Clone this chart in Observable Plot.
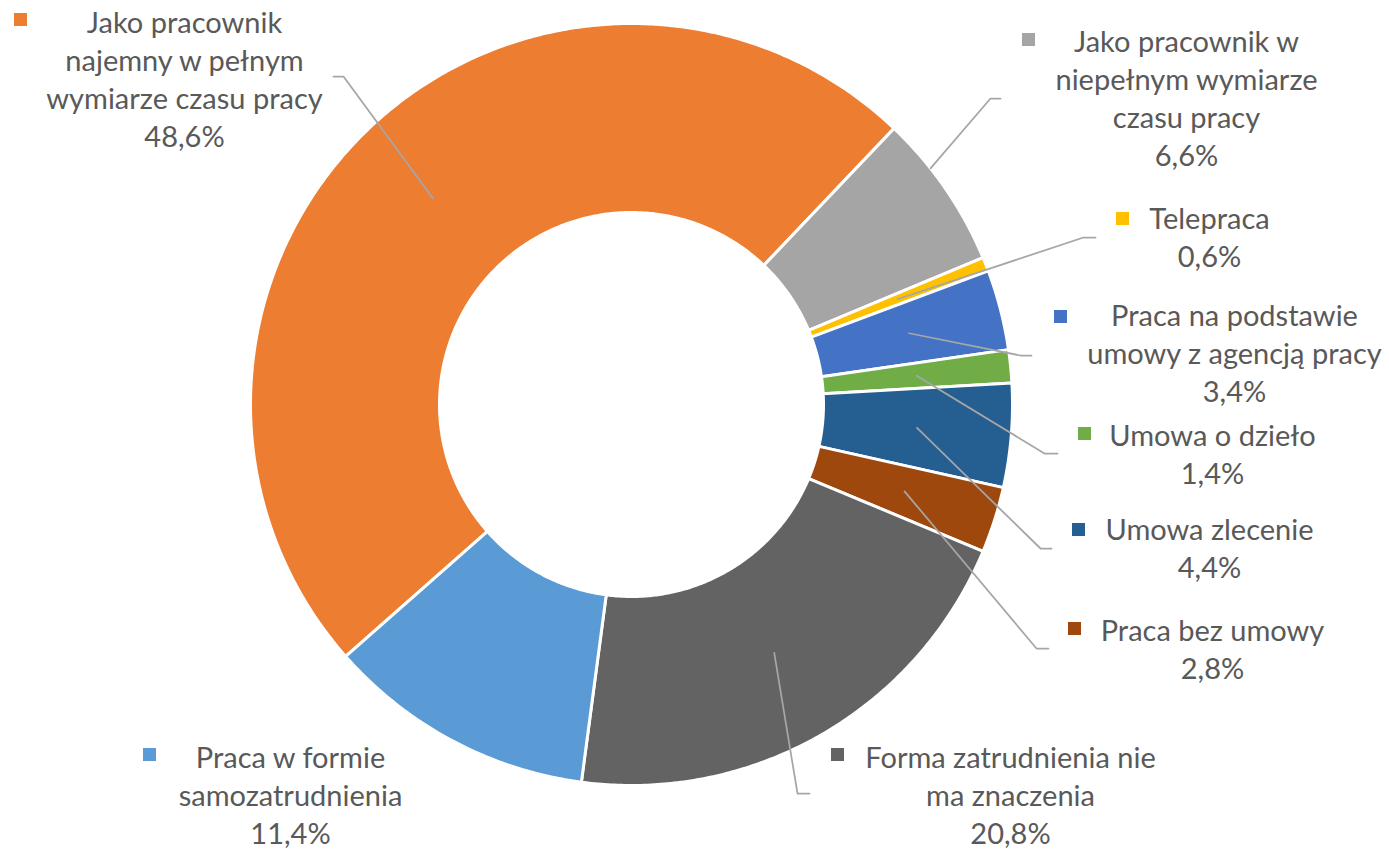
<!DOCTYPE html>
<html><head><meta charset="utf-8">
<script src="https://cdn.jsdelivr.net/npm/d3@7"></script>
<script src="https://cdn.jsdelivr.net/npm/@observablehq/plot@0.6"></script>
<style>
html,body{margin:0;padding:0;background:#fff;overflow:hidden;}
#chart svg{display:block;}
</style>
</head><body><div id="chart"></div>
<script>
// ---------- DATA ----------
const categories = [
  "Jako pracownik najemny w pełnym wymiarze czasu pracy",
  "Jako pracownik w niepełnym wymiarze czasu pracy",
  "Telepraca",
  "Praca na podstawie umowy z agencją pracy",
  "Umowa o dzieło",
  "Umowa zlecenie",
  "Praca bez umowy",
  "Forma zatrudnienia nie ma znaczenia",
  "Praca w formie samozatrudnienia"
];
const values = [48.6, 6.6, 0.6, 3.4, 1.4, 4.4, 2.8, 20.8, 11.4];
const labelLines = [
  ["Jako pracownik", "najemny w pełnym", "wymiarze czasu pracy"],
  ["Jako pracownik w", "niepełnym wymiarze", "czasu pracy"],
  ["Telepraca"],
  ["Praca na podstawie", "umowy z agencją pracy"],
  ["Umowa o dzieło"],
  ["Umowa zlecenie"],
  ["Praca bez umowy"],
  ["Forma zatrudnienia nie", "ma znaczenia"],
  ["Praca w formie", "samozatrudnienia"]
];
const colors = ["#ED7D31","#A5A5A5","#FFC000","#4472C4","#70AD47","#255E91","#9E480E","#636363","#5B9BD5"];

// ---------- LAYOUT (pixels) ----------
const W = 1389, H = 849;
const CX = 631, CY = 404, R_OUT = 381, R_IN = 192;
const START_ANGLE = 228.6; // degrees clockwise from 12 o'clock
const LINE_H = 38, FONT_SIZE = 29, KEY = 13;
// label anchor: cx = text centre, y0 = first baseline, key = legend key top-left, lead = [start x, elbow x, y] or null, edge = stop at outer edge
const labelLayout = [
  {cx: 184, y0: 32,  key: [14, 13],   lead: [333, 343, 76]},
  {cx: 1186, y0: 51, key: [1022, 33], lead: [1000, 990, 98], edge: true},
  {cx: 1209, y0: 228, key: [1116, 212], lead: [1095, 1083, 237]},
  {cx: 1234, y0: 325, key: [1054, 310], lead: [1031, 1020, 355]},
  {cx: 1212, y0: 445, key: [1078, 427], lead: [1057, 1044, 453]},
  {cx: 1209, y0: 539, key: [1072, 523], lead: [1051, 1040, 548]},
  {cx: 1212, y0: 640, key: [1068, 622], lead: [1048, 1036, 648]},
  {cx: 1010, y0: 767, key: [831, 748],  lead: [809, 797, 793]},
  {cx: 290, y0: 767, key: [143, 748],   lead: null}
];

// ---------- DERIVED ----------
const total = d3.sum(values);
const fmt = v => d3.format(".1f")(v).replace(".", ",") + "%";
let acc = 0;
const slices = values.map((v, i) => {
  const a0 = START_ANGLE + acc / total * 360;
  acc += v;
  const a1 = START_ANGLE + acc / total * 360;
  return {i, name: categories[i], a0, a1, mid: (a0 + a1) / 2};
});
const polar = (deg, r) => {
  const a = deg * Math.PI / 180;
  return [CX + r * Math.sin(a), CY - r * Math.cos(a)];
};
const slicePts = [];
slices.forEach(s => {
  const n = Math.max(2, Math.ceil((s.a1 - s.a0) / 0.5));
  for (let k = 0; k <= n; k++) {
    const [x, y] = polar(s.a0 + (s.a1 - s.a0) * k / n, R_OUT);
    slicePts.push({name: s.name, x, y});
  }
  for (let k = n; k >= 0; k--) {
    const [x, y] = polar(s.a0 + (s.a1 - s.a0) * k / n, R_IN);
    slicePts.push({name: s.name, x, y});
  }
});

const leadPts = [];
slices.forEach((s, i) => {
  const L = labelLayout[i];
  if (!L.lead) return;
  let [mx, my] = polar(s.mid, (R_OUT + R_IN) / 2);
  const ex = L.lead[1], ey = L.lead[2];
  if (L.edge) {
    const dx = mx - ex, dy = my - ey, fx = ex - CX, fy = ey - CY;
    const a = dx*dx + dy*dy, b = 2*(fx*dx + fy*dy), c = fx*fx + fy*fy - R_OUT*R_OUT;
    const t = (-b - Math.sqrt(b*b - 4*a*c)) / (2*a);
    mx = ex + t*dx; my = ey + t*dy;
  }
  leadPts.push({id: i, x: L.lead[0], y: ey});
  leadPts.push({id: i, x: ex, y: ey});
  leadPts.push({id: i, x: mx, y: my});
});

const textRows = [];
labelLines.forEach((lines, i) => {
  const L = labelLayout[i];
  [...lines, fmt(values[i])].forEach((t, k) => textRows.push({x: L.cx, y: L.y0 + k * LINE_H, text: t}));
});
const keyRows = labelLayout.map((L, i) => ({name: categories[i], x1: L.key[0], x2: L.key[0] + KEY, y1: L.key[1], y2: L.key[1] + KEY}));

const chart = Plot.plot({
  width: W, height: H,
  margin: 0,
  x: {domain: [0, W], range: [0, W], axis: null},
  y: {domain: [0, H], range: [0, H], axis: null},
  color: {domain: categories, range: colors},
  style: {fontFamily: "Lato, 'Open Sans', sans-serif", background: "#fff"},
  marks: [
    Plot.line(slicePts, {x: "x", y: "y", z: "name", fill: "name", stroke: "white", strokeWidth: 3, curve: "linear-closed"}),
    Plot.line(leadPts, {x: "x", y: "y", z: "id", stroke: "#A6A6A6", strokeWidth: 1.75, curve: "linear"}),
    Plot.rect(keyRows, {x1: "x1", x2: "x2", y1: "y1", y2: "y2", fill: "name"}),
    Plot.text(textRows, {x: "x", y: "y", text: "text", fontSize: FONT_SIZE, fill: "#595959", textAnchor: "middle", lineAnchor: "bottom"})
  ]
});
document.getElementById("chart").appendChild(chart);
</script>
</body></html>
